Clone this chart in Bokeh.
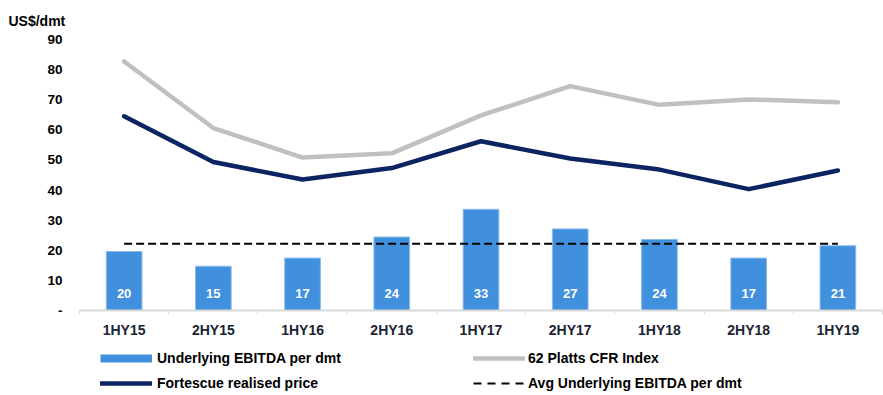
from bokeh.plotting import figure
from bokeh.layouts import column
from bokeh.models import (ColumnDataSource, FixedTicker, LinearAxis, Range1d,
                          Legend, LegendItem, Title)
from bokeh.core.properties import value
from bokeh.embed import file_html
from bokeh.resources import INLINE

categories = ["1HY15", "2HY15", "1HY16", "2HY16", "1HY17", "2HY17", "1HY18", "2HY18", "1HY19"]
ebitda = [19.6, 14.7, 17.4, 24.4, 33.6, 27.1, 23.6, 17.4, 21.5]
ebitda_labels = ["20", "15", "17", "24", "33", "27", "24", "17", "21"]
platts = [82.7, 60.6, 50.8, 52.2, 64.8, 74.5, 68.3, 70.1, 69.2]
realised = [64.5, 49.3, 43.5, 47.3, 56.2, 50.5, 46.8, 40.3, 46.5]
avg_ebitda = 22.2
y_ticks = [0, 10, 20, 30, 40, 50, 60, 70, 80, 90]
y_tick_labels = {0: "-"}

FONT = "Liberation Sans"
BAR = "#4190de"
NAVY = "#0c2461"
GREY = "#c0c0c0"

n = len(categories)
xs = list(range(n))
src = ColumnDataSource(dict(x=xs, ebitda=ebitda, lab=ebitda_labels, platts=platts,
                            realised=realised, avg=[avg_ebitda] * n))

p = figure(width=883, height=340, x_range=Range1d(-0.5, n - 0.5), y_range=Range1d(0, 90),
           output_backend="svg", toolbar_location=None, x_axis_type=None, y_axis_type=None,
           min_border_left=79, min_border_right=1, min_border_top=39, min_border_bottom=30)
p.outline_line_color = None
p.background_fill_color = "white"

# title
title = Title(text="US$/dmt", align="left", offset=-71, standoff=21,
              text_font=FONT, text_font_style="bold", text_font_size="14px", text_color="black")
p.add_layout(title, "above")

# axes
xaxis = LinearAxis(ticker=FixedTicker(ticks=xs, minor_ticks=[i - 0.5 for i in range(n + 1)]),
                   major_label_overrides={i: c for i, c in enumerate(categories)})
xaxis.axis_line_color = "#d9d9d9"
xaxis.axis_line_width = 2
xaxis.major_tick_line_color = None
xaxis.minor_tick_line_color = "#d9d9d9"
xaxis.minor_tick_in = 0
xaxis.minor_tick_out = 4
xaxis.major_tick_in = 0
xaxis.major_tick_out = 0
xaxis.major_label_standoff = 7
xaxis.major_label_text_font = FONT
xaxis.major_label_text_font_style = "bold"
xaxis.major_label_text_font_size = "14px"
xaxis.major_label_text_color = "#1b2433"
p.add_layout(xaxis, "below")

yaxis = LinearAxis(ticker=FixedTicker(ticks=y_ticks), major_label_overrides=y_tick_labels)
yaxis.axis_line_color = None
yaxis.major_tick_line_color = None
yaxis.minor_tick_line_color = None
yaxis.major_tick_in = 0
yaxis.major_tick_out = 0
yaxis.major_label_standoff = 17
yaxis.major_label_text_font = FONT
yaxis.major_label_text_font_style = "bold"
yaxis.major_label_text_font_size = "13.5px"
yaxis.major_label_text_color = "black"
p.add_layout(yaxis, "left")

# glyphs
p.vbar(x="x", top="ebitda", width=0.4, source=src, fill_color=BAR, line_color="#8cbcec", line_width=1)
p.text(x="x", y=0, text="lab", source=src, y_offset=-17, text_color="white",
       text_font=value(FONT), text_font_style="bold", text_font_size="13px",
       text_align="center", text_baseline="middle")
p.line(x="x", y="avg", source=src, line_color="black", line_width=2, line_dash="8 4")
p.line(x="x", y="platts", source=src, line_color=GREY, line_width=4.5,
       line_join="round", line_cap="round")
p.line(x="x", y="realised", source=src, line_color=NAVY, line_width=4.5,
       line_join="round", line_cap="round")

# legend figure (legend swatches only, no drawn data)
lf = figure(width=883, height=55, x_range=Range1d(0, 1), y_range=Range1d(0, 1),
            output_backend="svg", toolbar_location=None, x_axis_type=None, y_axis_type=None,
            min_border_left=0, min_border_right=0, min_border_top=0, min_border_bottom=0)
lf.outline_line_color = None
lf.grid.visible = False
nan = [float("nan")]
l_bar = lf.line(x=nan, y=nan, line_color=BAR, line_width=8, line_cap="butt")
l_real = lf.line(x=nan, y=nan, line_color=NAVY, line_width=4.5, line_cap="round")
l_platts = lf.line(x=nan, y=nan, line_color=GREY, line_width=4.5, line_cap="round")
l_avg = lf.line(x=nan, y=nan, line_color="black", line_width=2, line_dash="8 6")


def make_legend(items, x, standoff):
    lg = Legend(items=items, location=(x, 4), orientation="vertical")
    lg.padding = 0
    lg.margin = 0
    lg.border_line_color = None
    lg.background_fill_alpha = 0
    lg.glyph_width = 52
    lg.glyph_height = 16
    lg.label_height = 16
    lg.label_standoff = standoff
    lg.spacing = 9
    lg.label_text_font = FONT
    lg.label_text_font_style = "bold"
    lg.label_text_font_size = "14px"
    lg.label_text_color = "black"
    return lg


lf.add_layout(make_legend([LegendItem(label="Underlying EBITDA per dmt", renderers=[l_bar]),
                           LegendItem(label="Fortescue realised price", renderers=[l_real])], 21, 5), "center")
lf.add_layout(make_legend([LegendItem(label="62 Platts CFR Index", renderers=[l_platts]),
                           LegendItem(label="Avg Underlying EBITDA per dmt", renderers=[l_avg])], 394, 3), "center")

layout = column(p, lf, spacing=0)
open("out.html", "w").write(file_html(layout, INLINE))
